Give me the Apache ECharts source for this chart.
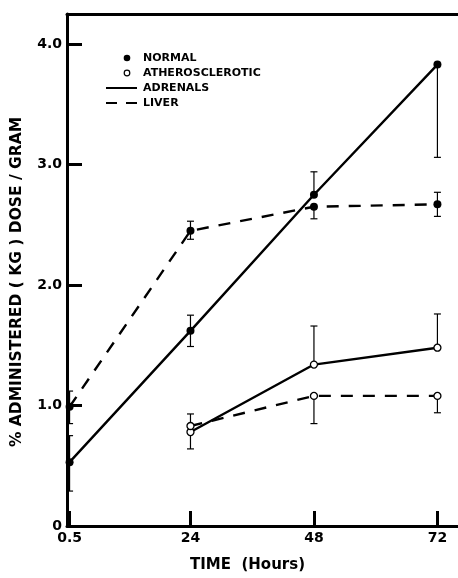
<!DOCTYPE html>
<html>
<head>
<meta charset="utf-8">
<script src="https://cdn.jsdelivr.net/npm/echarts@6/dist/echarts.min.js"></script>
<style>html,body{margin:0;padding:0;background:#fff}#c{width:458px;height:578px}</style>
</head>
<body>
<div id="c"></div>
<script>
// ---- data ----
const xTicks = [0.5, 24, 48, 72];
const yTicks = [0, 1, 2, 3, 4];
const hoursNormal = [0.5, 24, 48, 72];
const normalAdrenals = [0.53, 1.62, 2.75, 3.83];
const normalAdrenalsLow = [0.29, 1.49, 2.75, 3.06];
const normalAdrenalsHigh = [0.75, 1.75, 2.94, 3.83];
const normalLiver = [0.99, 2.45, 2.65, 2.67];
const normalLiverLow = [0.85, 2.38, 2.55, 2.57];
const normalLiverHigh = [1.12, 2.53, 2.65, 2.77];
const hoursAthero = [24, 48, 72];
const atheroAdrenals = [0.78, 1.34, 1.48];
const atheroAdrenalsLow = [0.64, 1.34, 1.48];
const atheroAdrenalsHigh = [0.78, 1.66, 1.76];
const atheroLiver = [0.83, 1.08, 1.08];
const atheroLiverLow = [0.83, 0.85, 0.94];
const atheroLiverHigh = [0.93, 1.08, 1.08];

const zip = (xs, ys) => xs.map((x, i) => [x, ys[i]]);

const chart = echarts.init(document.getElementById('c'));
const FONT = '"DejaVu Sans", "Liberation Sans", Arial, sans-serif';

function errSeries(xs, ys, lo, hi) {
  return {
    type: 'custom', z: 2, silent: true,
    encode: { x: 0, y: [1, 2] },
    data: xs.map((x, i) => [x, lo[i], hi[i], ys[i]]),
    renderItem: (p, api) => {
      const x = api.value(0), l = api.value(1), h = api.value(2), y = api.value(3);
      const pLo = api.coord([x, l]), pHi = api.coord([x, h]);
      const w = 3.5;
      const style = { stroke: '#000', lineWidth: 1.2 };
      const ch = [{ type: 'line', shape: { x1: pLo[0], y1: pLo[1], x2: pHi[0], y2: pHi[1] }, style }];
      if (h > y) ch.push({ type: 'line', shape: { x1: pHi[0] - w, y1: pHi[1], x2: pHi[0] + w, y2: pHi[1] }, style });
      if (l < y) ch.push({ type: 'line', shape: { x1: pLo[0] - w, y1: pLo[1], x2: pLo[0] + w, y2: pLo[1] }, style });
      return { type: 'group', children: ch };
    }
  };
}

function lineSeries(name, xs, ys, dashed, filled) {
  return {
    name, type: 'line', data: zip(xs, ys), z: 3,
    symbol: 'circle', symbolSize: filled ? 8 : 7,
    itemStyle: { color: filled ? '#000' : '#fff', borderColor: '#000', borderWidth: filled ? 0 : 1.3 },
    lineStyle: { color: '#000', width: 2.4, type: dashed ? [12, 10] : 'solid' },
    animation: false, silent: true
  };
}

const option = {
  animation: false,
  backgroundColor: '#fff',
  grid: { left: 67, right: 0, top: 14, bottom: 46 },
  xAxis: [{
    type: 'value', min: 0, max: 76,
    axisLine: { lineStyle: { color: '#000', width: 3 } },
    axisTick: { show: true, inside: true, length: 15, lineStyle: { color: '#000', width: 3 }, customValues: xTicks },
    axisLabel: { customValues: xTicks, color: '#000', fontFamily: FONT, fontSize: 14, fontWeight: 'bold', margin: 5,
      formatter: v => (v === 0.5 ? '0.5' : String(v)) },
    splitLine: { show: false },
    name: 'TIME  (Hours)', nameLocation: 'middle', nameGap: 32,
    nameTextStyle: { color: '#000', fontFamily: FONT, fontSize: 15, fontWeight: 'bold', padding: [0, 30, 0, 0] }
  }, {
    type: 'value', position: 'top', min: 0, max: 76,
    axisLine: { show: true, lineStyle: { color: '#000', width: 3 } },
    axisTick: { show: false }, axisLabel: { show: false }, splitLine: { show: false }
  }],
  yAxis: {
    type: 'value', min: 0, max: 4.25,
    axisLine: { show: true, lineStyle: { color: '#000', width: 3 } },
    axisTick: { show: true, inside: true, length: 15, lineStyle: { color: '#000', width: 3 }, customValues: [1, 2, 3, 4] },
    axisLabel: { customValues: yTicks, color: '#000', fontFamily: FONT, fontSize: 14, fontWeight: 'bold', margin: 5,
      formatter: v => (v === 0 ? '0' : v.toFixed(1)) },
    splitLine: { show: false },
    name: '% ADMINISTERED ( KG ) DOSE / GRAM', nameLocation: 'middle', nameGap: 42, nameRotate: 90,
    nameTextStyle: { color: '#000', fontFamily: FONT, fontSize: 15.5, fontWeight: 'bold', padding: [0, 24, 0, 0] }
  },
  series: [
    errSeries(hoursNormal, normalAdrenals, normalAdrenalsLow, normalAdrenalsHigh),
    errSeries(hoursNormal, normalLiver, normalLiverLow, normalLiverHigh),
    errSeries(hoursAthero, atheroAdrenals, atheroAdrenalsLow, atheroAdrenalsHigh),
    errSeries(hoursAthero, atheroLiver, atheroLiverLow, atheroLiverHigh),
    lineSeries('Normal Adrenals', hoursNormal, normalAdrenals, false, true),
    lineSeries('Normal Liver', hoursNormal, normalLiver, true, true),
    lineSeries('Atherosclerotic Adrenals', hoursAthero, atheroAdrenals, false, false),
    lineSeries('Atherosclerotic Liver', hoursAthero, atheroLiver, true, false)
  ],
  graphic: [
    { type: 'circle', shape: { cx: 127, cy: 58, r: 3.3 }, style: { fill: '#000' } },
    { type: 'circle', shape: { cx: 127, cy: 73, r: 2.8 }, style: { fill: '#fff', stroke: '#000', lineWidth: 1.2 } },
    { type: 'line', shape: { x1: 106, y1: 88, x2: 137, y2: 88 }, style: { stroke: '#000', lineWidth: 2 } },
    { type: 'line', shape: { x1: 106, y1: 103, x2: 117, y2: 103 }, style: { stroke: '#000', lineWidth: 2 } },
    { type: 'line', shape: { x1: 126, y1: 103, x2: 137, y2: 103 }, style: { stroke: '#000', lineWidth: 2 } },
    { type: 'text', x: 143, y: 58, style: { text: 'NORMAL', font: 'bold 11px ' + FONT, fill: '#000', verticalAlign: 'middle' } },
    { type: 'text', x: 143, y: 73, style: { text: 'ATHEROSCLEROTIC', font: 'bold 11px ' + FONT, fill: '#000', verticalAlign: 'middle' } },
    { type: 'text', x: 143, y: 88, style: { text: 'ADRENALS', font: 'bold 11px ' + FONT, fill: '#000', verticalAlign: 'middle' } },
    { type: 'text', x: 143, y: 103, style: { text: 'LIVER', font: 'bold 11px ' + FONT, fill: '#000', verticalAlign: 'middle' } }
  ]
};
chart.setOption(option);
</script>
</body>
</html>
